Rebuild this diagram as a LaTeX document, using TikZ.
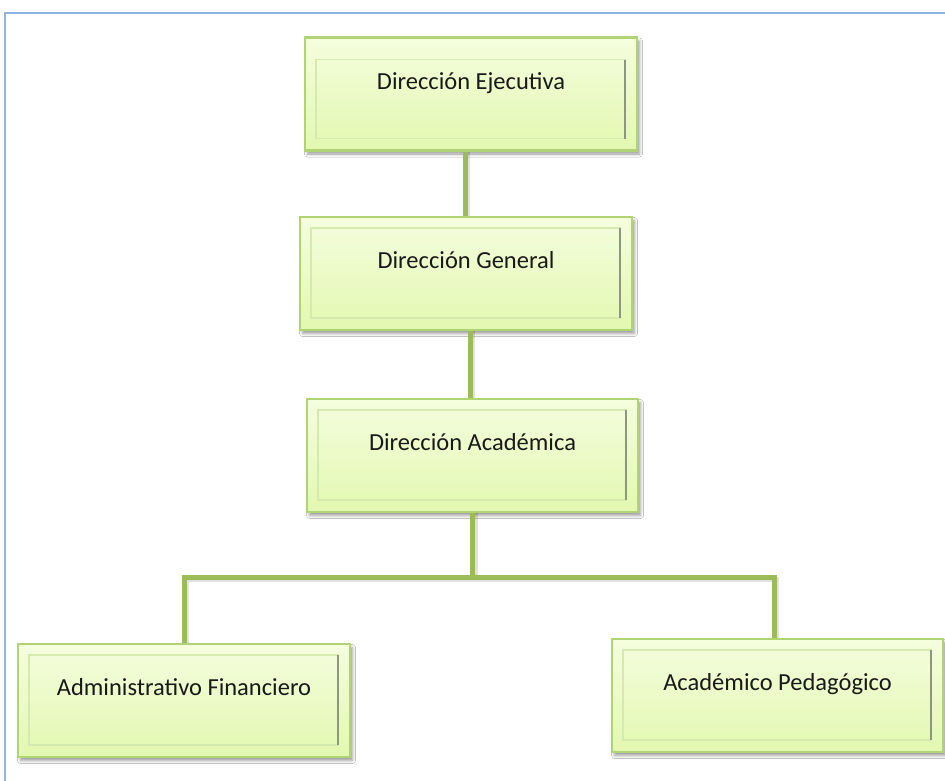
\documentclass[tikz,border=0pt]{standalone}
\usepackage{fontspec}
\setmainfont{Carlito}
\usetikzlibrary{shadows.blur}
\definecolor{framec}{RGB}{141,180,226}
\definecolor{connc}{RGB}{155,187,89}
\definecolor{boxedge}{RGB}{176,212,116}
\definecolor{filltop}{RGB}{245,253,222}
\definecolor{fillbot}{RGB}{226,248,176}
\definecolor{innerlight}{RGB}{212,234,174}
\definecolor{innerdark}{RGB}{140,150,128}
\definecolor{txtc}{RGB}{25,25,25}
\tikzset{
  orgbox/.style={rectangle, draw=boxedge, line width=2.2pt,
    top color=filltop, bottom color=fillbot,
    minimum width=332pt, minimum height=113pt, inner sep=0pt,
    text=txtc, font=\fontsize{24.5}{28}\selectfont,
    text height=17pt, text depth=26.6pt,
    blur shadow={shadow xshift=2.5pt, shadow yshift=-3.5pt, shadow blur radius=3pt, shadow opacity=40},
    path picture={
      \draw[innerlight, line width=1.2pt]
        ([shift={(11pt,-#1)}]path picture bounding box.north west) rectangle
        ([shift={(-12pt,12pt)}]path picture bounding box.south east);
      \draw[innerdark, line width=1.3pt]
        ([shift={(-12pt,-#1)}]path picture bounding box.north east) --
        ([shift={(-12pt,12pt)}]path picture bounding box.south east);
    }},
  orgbox/.default={11pt},
  conn/.style={draw=connc, line width=5pt},
  connshadow/.style={draw=black, opacity=0.12, line width=5pt},
  framel/.style={draw=framec, line width=2pt}
}
\begin{document}
\begin{tikzpicture}[x=1pt, y=-1pt]
\useasboundingbox (0,0) rectangle (945,780);
\fill[white] (0,0) rectangle (945,780);
\draw[framel] (946,13) -- (5,13) -- (5,781);

\coordinate (bar) at (0,577);

% connector shadows
\draw[connshadow] (467,152) -- (467,218);
\draw[connshadow] (472,330) -- (472,400);
\draw[connshadow] (475,512) -- (475,579) (186,645) -- (186,579) -- (776,579) -- (776,640);

\node[orgbox={22pt}] (ejec) at (471,94) {Dirección Ejecutiva};
\node[orgbox] (gen) at (466,273.5) {Dirección General};
\node[orgbox, minimum width=331pt] (acad) at (472.5,455.5) {Dirección Académica};
\node[orgbox] (adm) at (184,700.5) {Administrativo Financiero};
\node[orgbox, minimum width=331pt] (ped) at (777.5,695.5) {Académico Pedagógico};

\draw[conn] ([xshift=-1pt]gen.north |- ejec.south) -- ([xshift=-1pt]gen.north);
\draw[conn] ([xshift=-2pt]acad.north |- gen.south) -- ([xshift=-2pt]acad.north);
\draw[conn] (acad.south) -- (acad.south |- bar);
\draw[conn] (adm.north) -- (adm.north |- bar) -- ([xshift=-3.5pt]ped.north |- bar) -- ([xshift=-3.5pt]ped.north);
\end{tikzpicture}
\end{document}
